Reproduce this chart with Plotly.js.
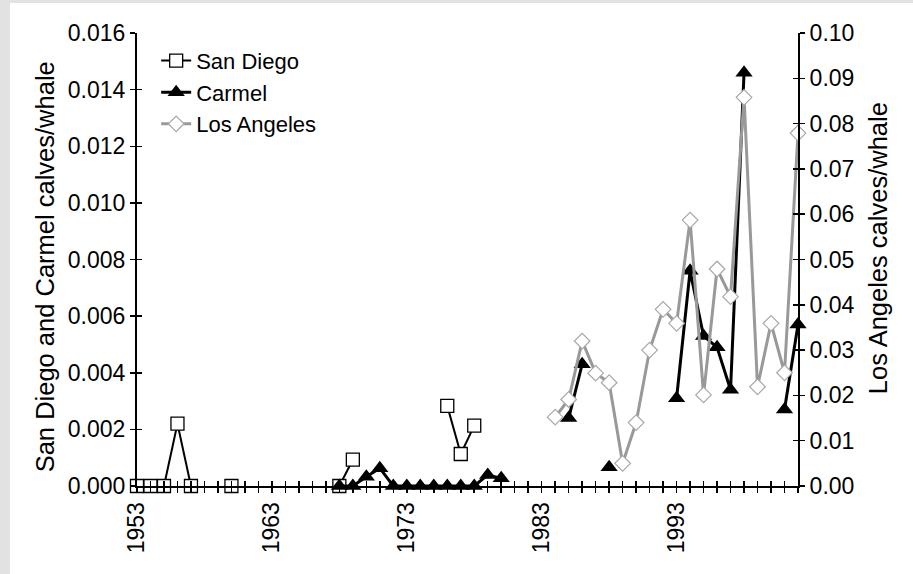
<!DOCTYPE html>
<html>
<head>
<meta charset="utf-8">
<script src="https://cdn.plot.ly/plotly-3.0.1.min.js"></script>
<style>
  html, body { margin: 0; padding: 0; background: #e2e2e2; width: 913px; height: 574px; overflow: hidden; }
  #chart { position: absolute; left: 10px; top: 3px; width: 903px; height: 571px; background: #fff; }
</style>
</head>
<body>
<div id="chart"></div>
<script>
// Calves per whale by survey year; null breaks the line between survey runs.
const sanDiegoYears  = [1953, 1954, 1955, 1956, 1957, 1958, 1960, 1961, 1968, 1969, 1970, 1976, 1977, 1978];
const sanDiegoValues = [0, 0, 0, 0.0022, 0, null, 0, null, 0, 0.00093, null, 0.00283, 0.00113, 0.00213];

const carmelYears  = [1968, 1969, 1970, 1971, 1972, 1973, 1974, 1975, 1976, 1977, 1978, 1979, 1980,
                      1981, 1985, 1986, 1987, 1988, 1989, 1993, 1994, 1995, 1996, 1997, 1998, 1999, 2001, 2002];
const carmelValues = [0, 0, 0.00033, 0.00063, 0, 0, 0, 0, 0, 0, 0, 0.00039, 0.00027,
                      null, 0.0024, 0.0043, null, 0.00066, null, 0.0031, 0.0076, 0.0053, 0.0049, 0.0034, 0.0146, null, 0.0027, 0.0057];

const laYears  = [1984, 1985, 1986, 1987, 1988, 1989, 1990, 1991, 1992, 1993,
                  1994, 1995, 1996, 1997, 1998, 1999, 2000, 2001, 2002];
const laValues = [0.0152, 0.0191, 0.0320, 0.0249, 0.0228, 0.0050, 0.0140, 0.0300, 0.0390, 0.0359,
                  0.0587, 0.0201, 0.0479, 0.0418, 0.0858, 0.0219, 0.0359, 0.0250, 0.0779];

// Year ticks: every year gets a mark, every tenth year a label.
const yearTicks = [];
for (let y = 1953; y <= 2002; y++) yearTicks.push(y);
const yearLabels = yearTicks.map(y => ((y - 1953) % 10 === 0 && y < 2000) ? String(y) : '');

const leftTicks  = [0, 0.002, 0.004, 0.006, 0.008, 0.010, 0.012, 0.014, 0.016];
const rightTicks = [0, 0.01, 0.02, 0.03, 0.04, 0.05, 0.06, 0.07, 0.08, 0.09, 0.10];

const leftTitle  = 'San Diego and Carmel calves/whale';
const rightTitle = 'Los Angeles calves/whale';

const FONT = 'Liberation Sans, Arial, Helvetica, sans-serif';

const traces = [
  {
    name: 'San Diego', x: sanDiegoYears, y: sanDiegoValues, xaxis: 'x', yaxis: 'y',
    mode: 'lines+markers', cliponaxis: false,
    line: { color: '#000', width: 2 },
    marker: { symbol: 'square', size: 13, color: '#fff', line: { color: '#000', width: 1.3 } }
  },
  {
    name: 'Carmel', x: carmelYears, y: carmelValues, xaxis: 'x', yaxis: 'y',
    mode: 'lines+markers', cliponaxis: false,
    line: { color: '#000', width: 3 },
    marker: { symbol: 'triangle-up', size: 15, color: '#000' }
  },
  {
    name: 'Los Angeles', x: laYears, y: laValues, xaxis: 'x', yaxis: 'y2',
    mode: 'lines+markers', cliponaxis: false,
    line: { color: '#999999', width: 3 },
    marker: { symbol: 'diamond', size: 12, color: '#fff', line: { color: '#a8a8a8', width: 1.2 } }
  },
  // empty traces that carry the inward half of the crossing tick marks
  { x: [], y: [], xaxis: 'x3', yaxis: 'y3', showlegend: false, hoverinfo: 'skip' },
  { x: [], y: [], xaxis: 'x3', yaxis: 'y4', showlegend: false, hoverinfo: 'skip' }
];

const tickFont = { family: FONT, size: 23, color: '#000' };
const titleFont = { family: FONT, size: 25.5, color: '#000' };

const layout = {
  width: 903, height: 571,
  margin: { l: 127, r: 115, t: 30, b: 88 },
  paper_bgcolor: '#fff', plot_bgcolor: '#fff',
  font: { family: FONT, color: '#000' },
  showlegend: true,
  legend: {
    x: 0.029, y: 0.985, xanchor: 'left', yanchor: 'top',
    bgcolor: 'rgba(0,0,0,0)', font: { family: FONT, size: 22, color: '#000' },
    itemwidth: 30, tracegroupgap: 0
  },
  xaxis: {
    range: [1953, 2002], showgrid: false, zeroline: false,
    showline: true, linecolor: '#000', linewidth: 2,
    tickmode: 'array', tickvals: yearTicks, ticktext: yearLabels,
    ticks: 'outside', ticklen: 5, tickwidth: 1.5, tickcolor: '#000',
    tickangle: -90, tickfont: tickFont
  },
  xaxis3: {
    overlaying: 'x', anchor: 'y3', range: [1953, 2002], showgrid: false, zeroline: false,
    showline: false, showticklabels: false,
    tickmode: 'array', tickvals: yearTicks,
    ticks: 'inside', ticklen: 5, tickwidth: 1.5, tickcolor: '#000'
  },
  yaxis: {
    range: [0, 0.016], showgrid: false, zeroline: false,
    showline: true, linecolor: '#000', linewidth: 2,
    tickmode: 'array', tickvals: leftTicks, tickformat: '.3f',
    ticks: 'outside', ticklen: 5, tickwidth: 1.5, tickcolor: '#000',
    tickfont: tickFont
  },
  yaxis2: {
    overlaying: 'y', side: 'right', anchor: 'x',
    range: [0, 0.10], showgrid: false, zeroline: false,
    showline: true, linecolor: '#000', linewidth: 2,
    tickmode: 'array', tickvals: rightTicks, tickformat: '.2f',
    ticks: 'outside', ticklen: 5, tickwidth: 1.5, tickcolor: '#000',
    tickfont: tickFont
  },
  yaxis3: {
    overlaying: 'y', side: 'left', anchor: 'x3',
    range: [0, 0.016], showgrid: false, zeroline: false, showline: false, showticklabels: false,
    tickmode: 'array', tickvals: leftTicks,
    ticks: 'inside', ticklen: 5, tickwidth: 1.5, tickcolor: '#000'
  },
  yaxis4: {
    overlaying: 'y', side: 'right', anchor: 'x3',
    range: [0, 0.10], showgrid: false, zeroline: false, showline: false, showticklabels: false,
    tickmode: 'array', tickvals: rightTicks,
    ticks: 'inside', ticklen: 5, tickwidth: 1.5, tickcolor: '#000'
  },
  // axis titles placed as rotated annotations
  annotations: [
    {
      text: leftTitle, textangle: -90, font: titleFont, showarrow: false,
      xref: 'paper', yref: 'paper', x: -0.139, y: 0.483, xanchor: 'center', yanchor: 'middle'
    },
    {
      text: rightTitle, textangle: -90, font: titleFont, showarrow: false,
      xref: 'paper', yref: 'paper', x: 1.1210, y: 0.525, xanchor: 'center', yanchor: 'middle'
    }
  ]
};

Plotly.newPlot('chart', traces, layout, { displayModeBar: false, staticPlot: true });
</script>
</body>
</html>
